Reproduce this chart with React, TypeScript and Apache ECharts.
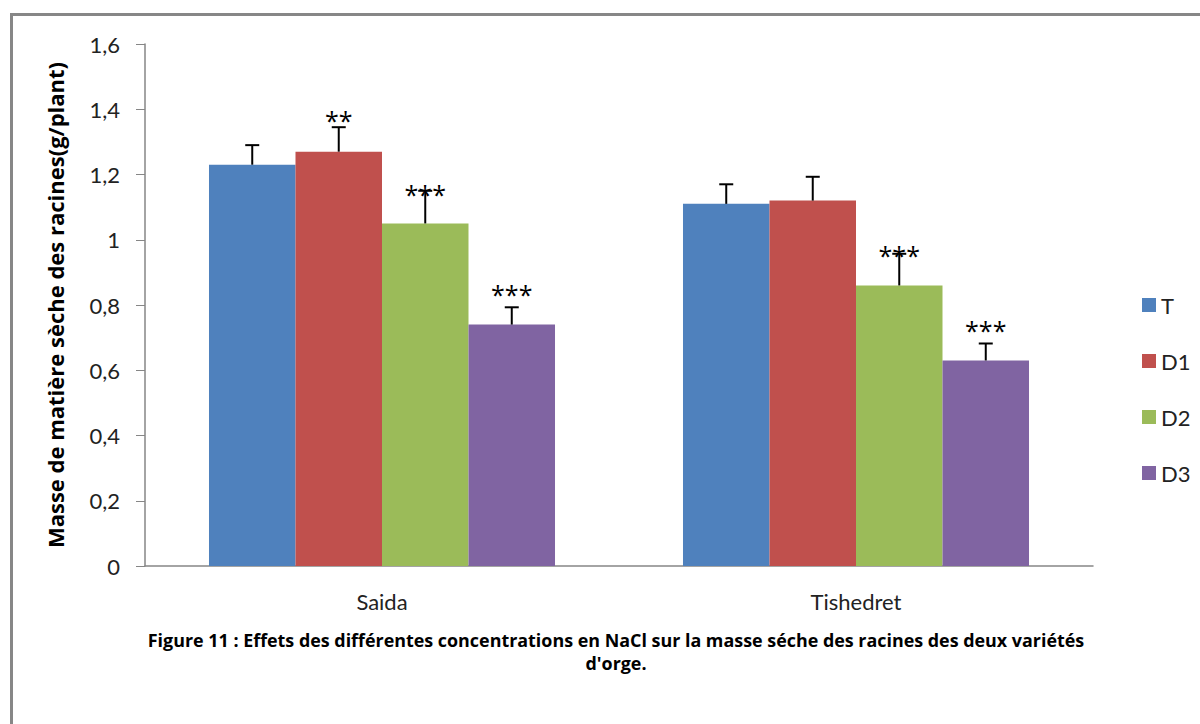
import React, { useEffect, useRef } from "react";
import * as echarts from "echarts";

// Varieties on the x axis
const varieties = ["Saida", "Tishedret"];
// NaCl treatments (legend entries)
const treatments = ["T", "D1", "D2", "D3"];
// Root dry mass (g/plant), one array per treatment, ordered as varieties
const massT = [1.23, 1.11];
const massD1 = [1.27, 1.12];
const massD2 = [1.05, 0.86];
const massD3 = [0.74, 0.63];
// Upper error bars (standard error)
const errT = [0.06, 0.06];
const errD1 = [0.075, 0.073];
const errD2 = [0.1, 0.097];
const errD3 = [0.053, 0.052];
// Significance marks above each bar
const sigT = ["", ""];
const sigD1 = ["**", ""];
const sigD2 = ["***", "***"];
const sigD3 = ["***", "***"];
// Y axis range
const yMin = 0;
const yMax = 1.6;
const yStep = 0.2;

const values = [massT, massD1, massD2, massD3];
const errors = [errT, errD1, errD2, errD3];
const marks = [sigT, sigD1, sigD2, sigD3];
const colors = ["#4F81BD", "#C0504D", "#9BBB59", "#8064A2"];
// pixel lift of each significance mark above its error cap
const markLift = [
  [0, 0],
  [10, 0],
  [0, 2],
  [16, 16],
];

const GAP = 0.27;
const FONT = "Lato, 'Open Sans', sans-serif";

export default function App() {
  const ref = useRef<HTMLDivElement>(null);

  useEffect(() => {
    if (!ref.current) return;
    const chart = echarts.init(ref.current, undefined, { renderer: "svg" });

    const barSeries = treatments.map((name, i) => ({
      name,
      type: "bar",
      data: values[i],
      itemStyle: { color: colors[i] },
      barGap: "0%",
      barCategoryGap: GAP * 100 + "%",
      z: 2,
    }));

    const errorSeries = treatments.map((name, i) => ({
      name: name + "-err",
      type: "custom",
      z: 5,
      data: values[i].map((v, c) => [c, v, errors[i][c]]),
      encode: { x: 0, y: 1 },
      renderItem: (params: any, api: any) => {
        const c = api.value(0);
        const v = api.value(1);
        const e = api.value(2);
        const base = api.coord([c, v]);
        const top = api.coord([c, v + e]);
        const catW = api.size([1, 0])[0];
        const barW = (catW * (1 - GAP)) / treatments.length;
        const x = base[0] + (i - (treatments.length - 1) / 2) * barW;
        const mark = marks[i][params.dataIndex];
        const children: any[] = [
          {
            type: "line",
            shape: { x1: x, y1: base[1], x2: x, y2: top[1] },
            style: { stroke: "#000", lineWidth: 2 },
          },
          {
            type: "line",
            shape: { x1: x - 7, y1: top[1], x2: x + 7, y2: top[1] },
            style: { stroke: "#000", lineWidth: 2 },
          },
        ];
        if (mark) {
          children.push({
            type: "text",
            style: {
              text: mark,
              x,
              y: top[1] - markLift[i][params.dataIndex] + 3,
              textAlign: "center",
              textVerticalAlign: "middle",
              fontFamily: "'Open Sans', sans-serif",
              fontSize: 25,
              fill: "#000",
            },
          });
        }
        return { type: "group", children };
      },
    }));

    chart.setOption({
      animation: false,
      backgroundColor: "#fff",
      grid: { left: 145, right: 107, top: 44, bottom: 158 },
      legend: {
        data: treatments,
        orient: "vertical",
        left: 1137,
        top: 289,
        itemWidth: 14,
        itemHeight: 14,
        itemGap: 34,
        icon: "rect",
        textStyle: { fontFamily: FONT, fontSize: 22, color: "#222" },
      },
      xAxis: {
        type: "category",
        data: varieties,
        boundaryGap: true,
        axisLine: { lineStyle: { color: "#868686", width: 1.5 } },
        axisTick: { length: 8, lineStyle: { color: "#868686" } },
        axisLabel: {
          margin: 24,
          fontFamily: FONT,
          fontSize: 22,
          color: "#222",
        },
      },
      yAxis: {
        type: "value",
        min: yMin,
        max: yMax,
        interval: yStep,
        name: "Masse de matière sèche des racines(g/plant)",
        nameLocation: "middle",
        nameGap: 79,
        nameTextStyle: {
          fontFamily: "'Open Sans', sans-serif",
          fontWeight: "bold",
          fontSize: 22,
          color: "#000",
        },
        axisLine: { show: true, lineStyle: { color: "#868686", width: 1.5 } },
        axisTick: { show: true, length: 9, lineStyle: { color: "#868686" } },
        splitLine: { show: false },
        axisLabel: {
          margin: 25,
          fontFamily: FONT,
          fontSize: 22,
          color: "#222",
          formatter: (v: number) => String(+v.toFixed(1)).replace(".", ","),
        },
      },
      graphic: [
        {
          type: "rect",
          shape: { x: 11.5, y: 14.5, width: 1250, height: 800 },
          style: { fill: "none", stroke: "#878787", lineWidth: 3 },
          silent: true,
        },
        {
          type: "text",
          x: 616,
          y: 651.5,
          style: {
            text:
              "Figure 11 : Effets des différentes concentrations en NaCl sur la masse séche des racines des deux variétés\nd'orge.",
            textAlign: "center",
            textVerticalAlign: "middle",
            fontFamily: "'Open Sans', sans-serif",
            fontWeight: "bold",
            fontSize: 17.9,
            lineHeight: 23,
            fill: "#000",
          },
        },
      ],
      series: [...barSeries, ...errorSeries],
    });

    return () => chart.dispose();
  }, []);

  return (
    <div
      ref={ref}
      style={{ position: "fixed", left: 0, top: 0, width: 1200, height: 724 }}
    />
  );
}
